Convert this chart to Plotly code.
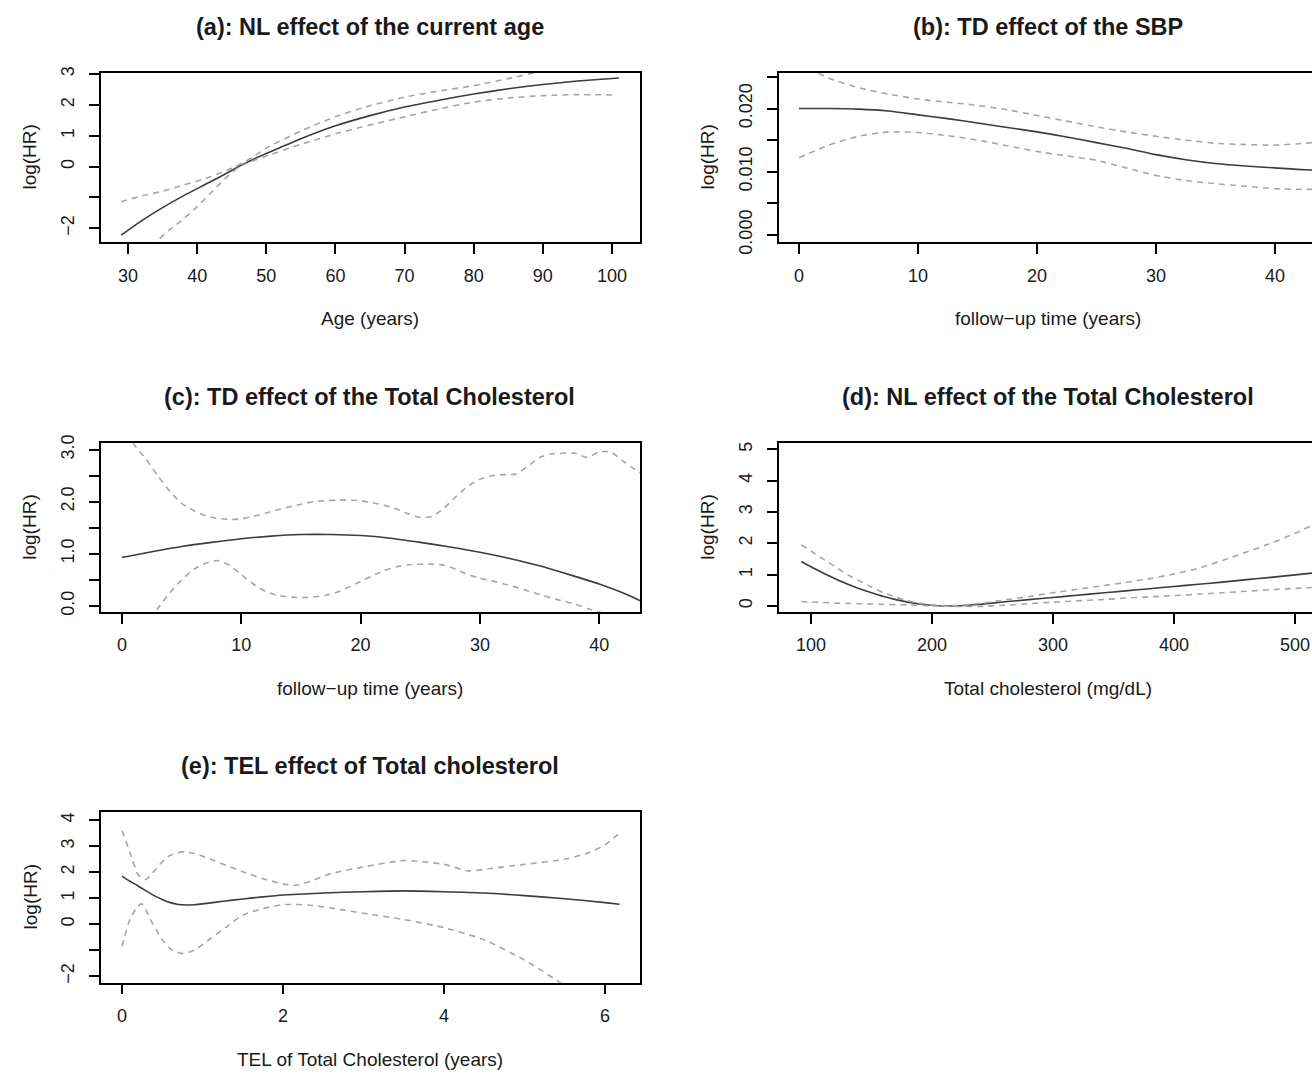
import plotly.graph_objects as go

# ---------------- data ----------------
# (a) NL effect of current age
age_x = [29, 32, 35, 38, 41, 44, 46, 48, 50, 55, 60, 65, 70, 75, 80, 85, 90, 95, 101]
age_fit = [-2.22, -1.75, -1.33, -0.95, -0.6, -0.25, 0.0, 0.22, 0.42, 0.9, 1.32, 1.65, 1.93, 2.15, 2.35, 2.52, 2.66, 2.77, 2.87]
age_up_x = [29, 32, 35, 38, 41, 44, 46, 48, 50, 55, 60, 65, 70, 75, 80, 85, 90, 95, 101]
age_up = [-1.14, -0.95, -0.8, -0.6, -0.4, -0.15, 0.05, 0.3, 0.6, 1.15, 1.62, 1.97, 2.25, 2.45, 2.62, 2.85, 3.1, 3.3, 3.5]
age_lo_x = [29, 32, 34, 36, 38, 40, 42, 44, 46, 48, 50, 55, 60, 65, 70, 75, 80, 85, 90, 95, 100]
age_lo = [-3.6, -2.9, -2.45, -2.05, -1.7, -1.3, -0.85, -0.4, -0.02, 0.18, 0.34, 0.72, 1.06, 1.35, 1.61, 1.87, 2.09, 2.22, 2.3, 2.33, 2.32]

# (b) TD effect of SBP
sbp_t = [0, 2.5, 5, 7.5, 10, 12.5, 15, 17.5, 20, 22.5, 25, 27.5, 30, 32.5, 35, 37.5, 40, 42.5, 45]
sbp_fit = [0.0200, 0.0200, 0.0199, 0.0196, 0.0190, 0.0184, 0.0177, 0.0170, 0.0163, 0.0155, 0.0146, 0.0137,
           0.0127, 0.0119, 0.0113, 0.0109, 0.0106, 0.0103, 0.0102]
sbp_up = [0.0272, 0.0248, 0.0233, 0.0223, 0.0215, 0.0210, 0.0205, 0.0198, 0.0189, 0.0180, 0.0171, 0.0163,
          0.0156, 0.0150, 0.0145, 0.0143, 0.0142, 0.0145, 0.0149]
sbp_lo = [0.0122, 0.0142, 0.0156, 0.0163, 0.0162, 0.0157, 0.0150, 0.0141, 0.0132, 0.0125, 0.0118, 0.0106,
          0.0094, 0.0086, 0.0081, 0.0077, 0.0073, 0.0072, 0.0072]

# (c) TD effect of Total Cholesterol
tc_fit_t = [0, 2.5, 5, 7.5, 10, 12.5, 15, 17.5, 20, 22.5, 25, 27.5, 30, 32.5, 35, 37.5, 40, 42.5, 43.5]
tc_fit = [0.93, 1.04, 1.14, 1.22, 1.29, 1.34, 1.37, 1.37, 1.35, 1.30, 1.22, 1.13, 1.03, 0.91, 0.77, 0.60, 0.42, 0.20, 0.09]
tc_ci_t = [0, 1, 2, 3, 4, 5, 6, 7, 8, 9, 10, 11, 12, 13, 14, 15, 16, 17, 18, 19, 20, 21, 22,
           23, 24, 25, 26, 27, 28, 29, 30, 31, 32, 33, 34, 35, 36, 37, 38, 39, 40, 41, 42, 43, 43.5]
tc_up = [3.5, 3.1, 2.82, 2.5, 2.2, 1.97, 1.83, 1.73, 1.68, 1.66, 1.67, 1.72, 1.78, 1.84, 1.9, 1.95, 2.0, 2.02,
         2.03, 2.03, 2.02, 1.98, 1.93, 1.86, 1.77, 1.70, 1.72, 1.88, 2.1, 2.3, 2.43, 2.5, 2.52, 2.53, 2.68, 2.85,
         2.92, 2.93, 2.93, 2.85, 2.96, 2.95, 2.78, 2.62, 2.55]
tc_lo = [-0.9, -0.6, -0.3, -0.05, 0.25, 0.5, 0.7, 0.82, 0.87, 0.78, 0.6, 0.42, 0.28, 0.2, 0.17, 0.16, 0.17, 0.2,
         0.26, 0.36, 0.47, 0.58, 0.68, 0.75, 0.79, 0.8, 0.8, 0.78, 0.7, 0.6, 0.53, 0.48, 0.42, 0.36, 0.29, 0.22,
         0.15, 0.09, 0.03, -0.05, -0.12, -0.16, -0.2, -0.24, -0.26]

# (d) NL effect of Total Cholesterol
chol_x = [92, 100, 110, 120, 130, 140, 150, 160, 170, 180, 190, 200, 210, 220, 230, 240, 250, 260,
          280, 300, 320, 340, 360, 380, 400, 420, 440, 460, 480, 500, 520]
chol_fit = [1.42, 1.25, 1.05, 0.87, 0.70, 0.55, 0.42, 0.30, 0.20, 0.12, 0.06, 0.02, 0.0, 0.0, 0.02, 0.05, 0.09,
            0.13, 0.20, 0.27, 0.34, 0.41, 0.48, 0.55, 0.62, 0.69, 0.76, 0.84, 0.91, 0.99, 1.07]
chol_up = [1.95, 1.75, 1.5, 1.25, 1.0, 0.8, 0.6, 0.42, 0.28, 0.16, 0.08, 0.03, 0.01, 0.01, 0.04, 0.08, 0.13,
           0.19, 0.3, 0.42, 0.53, 0.64, 0.75, 0.87, 1.02, 1.2, 1.45, 1.72, 2.0, 2.32, 2.68]
chol_lo = [0.14, 0.12, 0.11, 0.09, 0.08, 0.07, 0.06, 0.05, 0.04, 0.03, 0.015, 0.0, -0.01, -0.02, -0.02, -0.02,
           0.0, 0.02, 0.07, 0.12, 0.16, 0.2, 0.25, 0.29, 0.33, 0.37, 0.42, 0.47, 0.52, 0.56, 0.6]

# (e) TEL effect of Total cholesterol
tel_fit_x = [0, 0.1, 0.2, 0.3, 0.4, 0.5, 0.6, 0.7, 0.8, 0.9, 1.0, 1.25, 1.5, 1.75, 2.0, 2.5, 3.0, 3.5,
             4.0, 4.5, 5.0, 5.5, 6.0, 6.18]
tel_fit = [1.85, 1.65, 1.47, 1.28, 1.1, 0.95, 0.83, 0.76, 0.74, 0.75, 0.78, 0.88, 0.97, 1.05, 1.12, 1.2, 1.25,
           1.28, 1.25, 1.2, 1.1, 0.98, 0.83, 0.77]
tel_up_x = [0, 0.1, 0.2, 0.3, 0.4, 0.5, 0.6, 0.75, 0.9, 1.1, 1.3, 1.5, 1.75, 2.0, 2.15, 2.3, 2.6, 3.0, 3.5,
            4.0, 4.3, 4.6, 5.0, 5.5, 5.8, 6.0, 6.18]
tel_up = [3.6, 2.75, 1.9, 1.72, 2.05, 2.4, 2.65, 2.78, 2.72, 2.5, 2.25, 2.02, 1.75, 1.55, 1.5, 1.6, 1.95, 2.2,
          2.45, 2.3, 2.05, 2.15, 2.3, 2.5, 2.75, 3.05, 3.5]
tel_lo_x = [0, 0.1, 0.2, 0.25, 0.35, 0.5, 0.6, 0.75, 0.9, 1.1, 1.3, 1.5, 1.75, 2.0, 2.3, 2.6, 3.0, 3.5, 4.0,
            4.5, 5.0, 5.5, 6.0, 6.18]
tel_lo = [-0.85, 0.2, 0.7, 0.78, 0.2, -0.6, -0.95, -1.13, -1.0, -0.55, -0.1, 0.35, 0.6, 0.75, 0.74, 0.62, 0.42,
          0.18, -0.13, -0.6, -1.38, -2.35, -3.3, -3.7]

titles = ["(a): NL effect of the current age", "(b): TD effect of the SBP",
          "(c): TD effect of the Total Cholesterol", "(d): NL effect of the Total Cholesterol",
          "(e): TEL effect of Total cholesterol"]
xtitles = ["Age (years)", "follow\u2212up time (years)", "follow\u2212up time (years)",
           "Total cholesterol (mg/dL)", "TEL of Total Cholesterol (years)"]
ytitle = "log(HR)"

# tick values / labels
a_xt = [30, 40, 50, 60, 70, 80, 90, 100]
a_yt = [-2, -1, 0, 1, 2, 3]
a_yl = ["\u22122", "", "0", "1", "2", "3"]
b_xt = [0, 10, 20, 30, 40]
b_yt = [0.0, 0.005, 0.010, 0.015, 0.020, 0.025]
b_yl = ["0.000", "", "0.010", "", "0.020", ""]
c_xt = [0, 10, 20, 30, 40]
c_yt = [0.0, 0.5, 1.0, 1.5, 2.0, 2.5, 3.0]
c_yl = ["0.0", "", "1.0", "", "2.0", "", "3.0"]
d_xt = [100, 200, 300, 400, 500]
d_yt = [0, 1, 2, 3, 4, 5]
d_yl = ["0", "1", "2", "3", "4", "5"]
e_xt = [0, 2, 4, 6]
e_yt = [-2, -1, 0, 1, 2, 3, 4]
e_yl = ["\u22122", "", "0", "1", "2", "3", "4"]

# ---------------- layout geometry (pixels) ----------------
W, H = 1312, 1082
FONT = "Liberation Sans, Arial, Helvetica, sans-serif"
SOLID = "#3c3c3c"
DASH = "#a6a6a6"

panels = [
    dict(box=(101, 640, 65, 238), xr=(26.09, 104.05), yr=(-2.457, 3.04), clip=False,
         xt=a_xt, yt=a_yt, yl=a_yl),
    dict(box=(779, 1312, 65, 238), xr=(-1.68, 43.11), yr=(-0.0012, 0.02567), clip=True,
         xt=b_xt, yt=b_yt, yl=b_yl),
    dict(box=(101, 640, 443, 615), xr=(-1.76, 43.42), yr=(-0.119, 3.12), clip=False,
         xt=c_xt, yt=c_yt, yl=c_yl),
    dict(box=(779, 1312, 443, 615), xr=(73.55, 514.0), yr=(-0.197, 5.19), clip=True,
         xt=d_xt, yt=d_yt, yl=d_yl),
    dict(box=(101, 640, 819, 993), xr=(-0.261, 6.435), yr=(-2.25, 4.31), clip=False,
         xt=e_xt, yt=e_yt, yl=e_yl),
]
centers_x = [370, 1048, 370, 1048, 370]

series = [
    [(age_x, age_fit, False), (age_up_x, age_up, True), (age_lo_x, age_lo, True)],
    [(sbp_t, sbp_fit, False), (sbp_t, sbp_up, True), (sbp_t, sbp_lo, True)],
    [(tc_fit_t, tc_fit, False), (tc_ci_t, tc_up, True), (tc_ci_t, tc_lo, True)],
    [(chol_x, chol_fit, False), (chol_x, chol_up, True), (chol_x, chol_lo, True)],
    [(tel_fit_x, tel_fit, False), (tel_up_x, tel_up, True), (tel_lo_x, tel_lo, True)],
]

fig = go.Figure()
layout = dict(width=W, height=H, margin=dict(l=0, r=0, t=0, b=0), autosize=False,
              paper_bgcolor="white", plot_bgcolor="white", showlegend=False,
              font=dict(family=FONT, size=18, color="#1a1a1a"))
annotations = []

for i, p in enumerate(panels):
    n = i + 1
    xa = "xaxis" if n == 1 else f"xaxis{n}"
    ya = "yaxis" if n == 1 else f"yaxis{n}"
    xref = "x" if n == 1 else f"x{n}"
    yref = "y" if n == 1 else f"y{n}"
    x0, x1, y0, y1 = p["box"]
    layout[xa] = dict(domain=[x0 / W, x1 / W], range=list(p["xr"]), anchor=yref,
                      showline=True, linecolor="black", linewidth=1.5, mirror=True,
                      ticks="outside", ticklen=10, tickwidth=1.5, tickcolor="black",
                      tickvals=p["xt"], ticktext=[str(v) for v in p["xt"]],
                      ticklabelstandoff=6,
                      showgrid=False, zeroline=False, tickfont=dict(size=18))
    layout[ya] = dict(domain=[1 - y1 / H, 1 - y0 / H], range=list(p["yr"]), anchor=xref,
                      showline=True, linecolor="black", linewidth=1.5,
                      mirror=(not p["clip"]),
                      ticks="outside", ticklen=10, tickwidth=1.5, tickcolor="black",
                      tickvals=p["yt"], ticktext=p["yl"], tickangle=-90,
                      ticklabelstandoff=8,
                      showgrid=False, zeroline=False, tickfont=dict(size=18))
    for xs, ys, dashed in series[i]:
        fig.add_trace(go.Scatter(
            x=xs, y=ys, mode="lines", xaxis=xref, yaxis=yref, hoverinfo="skip",
            line=dict(color=DASH if dashed else SOLID, width=1.6,
                      dash="6px,5px" if dashed else "solid", shape="spline", smoothing=0.6)))
    cx = centers_x[i]
    annotations.append(dict(text="<b>" + titles[i] + "</b>", x=cx / W, y=1 - (y0 - 47) / H,
                            xref="paper", yref="paper", showarrow=False,
                            xanchor="center", yanchor="middle",
                            font=dict(size=23.5, family=FONT, color="#1a1a1a")))
    annotations.append(dict(text=xtitles[i], x=cx / W, y=1 - (y1 + 78) / H,
                            xref="paper", yref="paper", showarrow=False,
                            xanchor="center", yanchor="middle",
                            font=dict(size=19, family=FONT, color="#1a1a1a")))
    annotations.append(dict(text=ytitle, x=(x0 - 71) / W, y=1 - ((y0 + y1) / 2) / H,
                            xref="paper", yref="paper", showarrow=False, textangle=-90,
                            xanchor="center", yanchor="middle",
                            font=dict(size=19, family=FONT, color="#1a1a1a")))

layout["annotations"] = annotations
fig.update_layout(**layout)
fig.write_html("out.html", config={"displayModeBar": False},
               post_script="document.body.style.margin='0';document.body.style.padding='0';"
                           "document.documentElement.style.overflow='hidden';")
